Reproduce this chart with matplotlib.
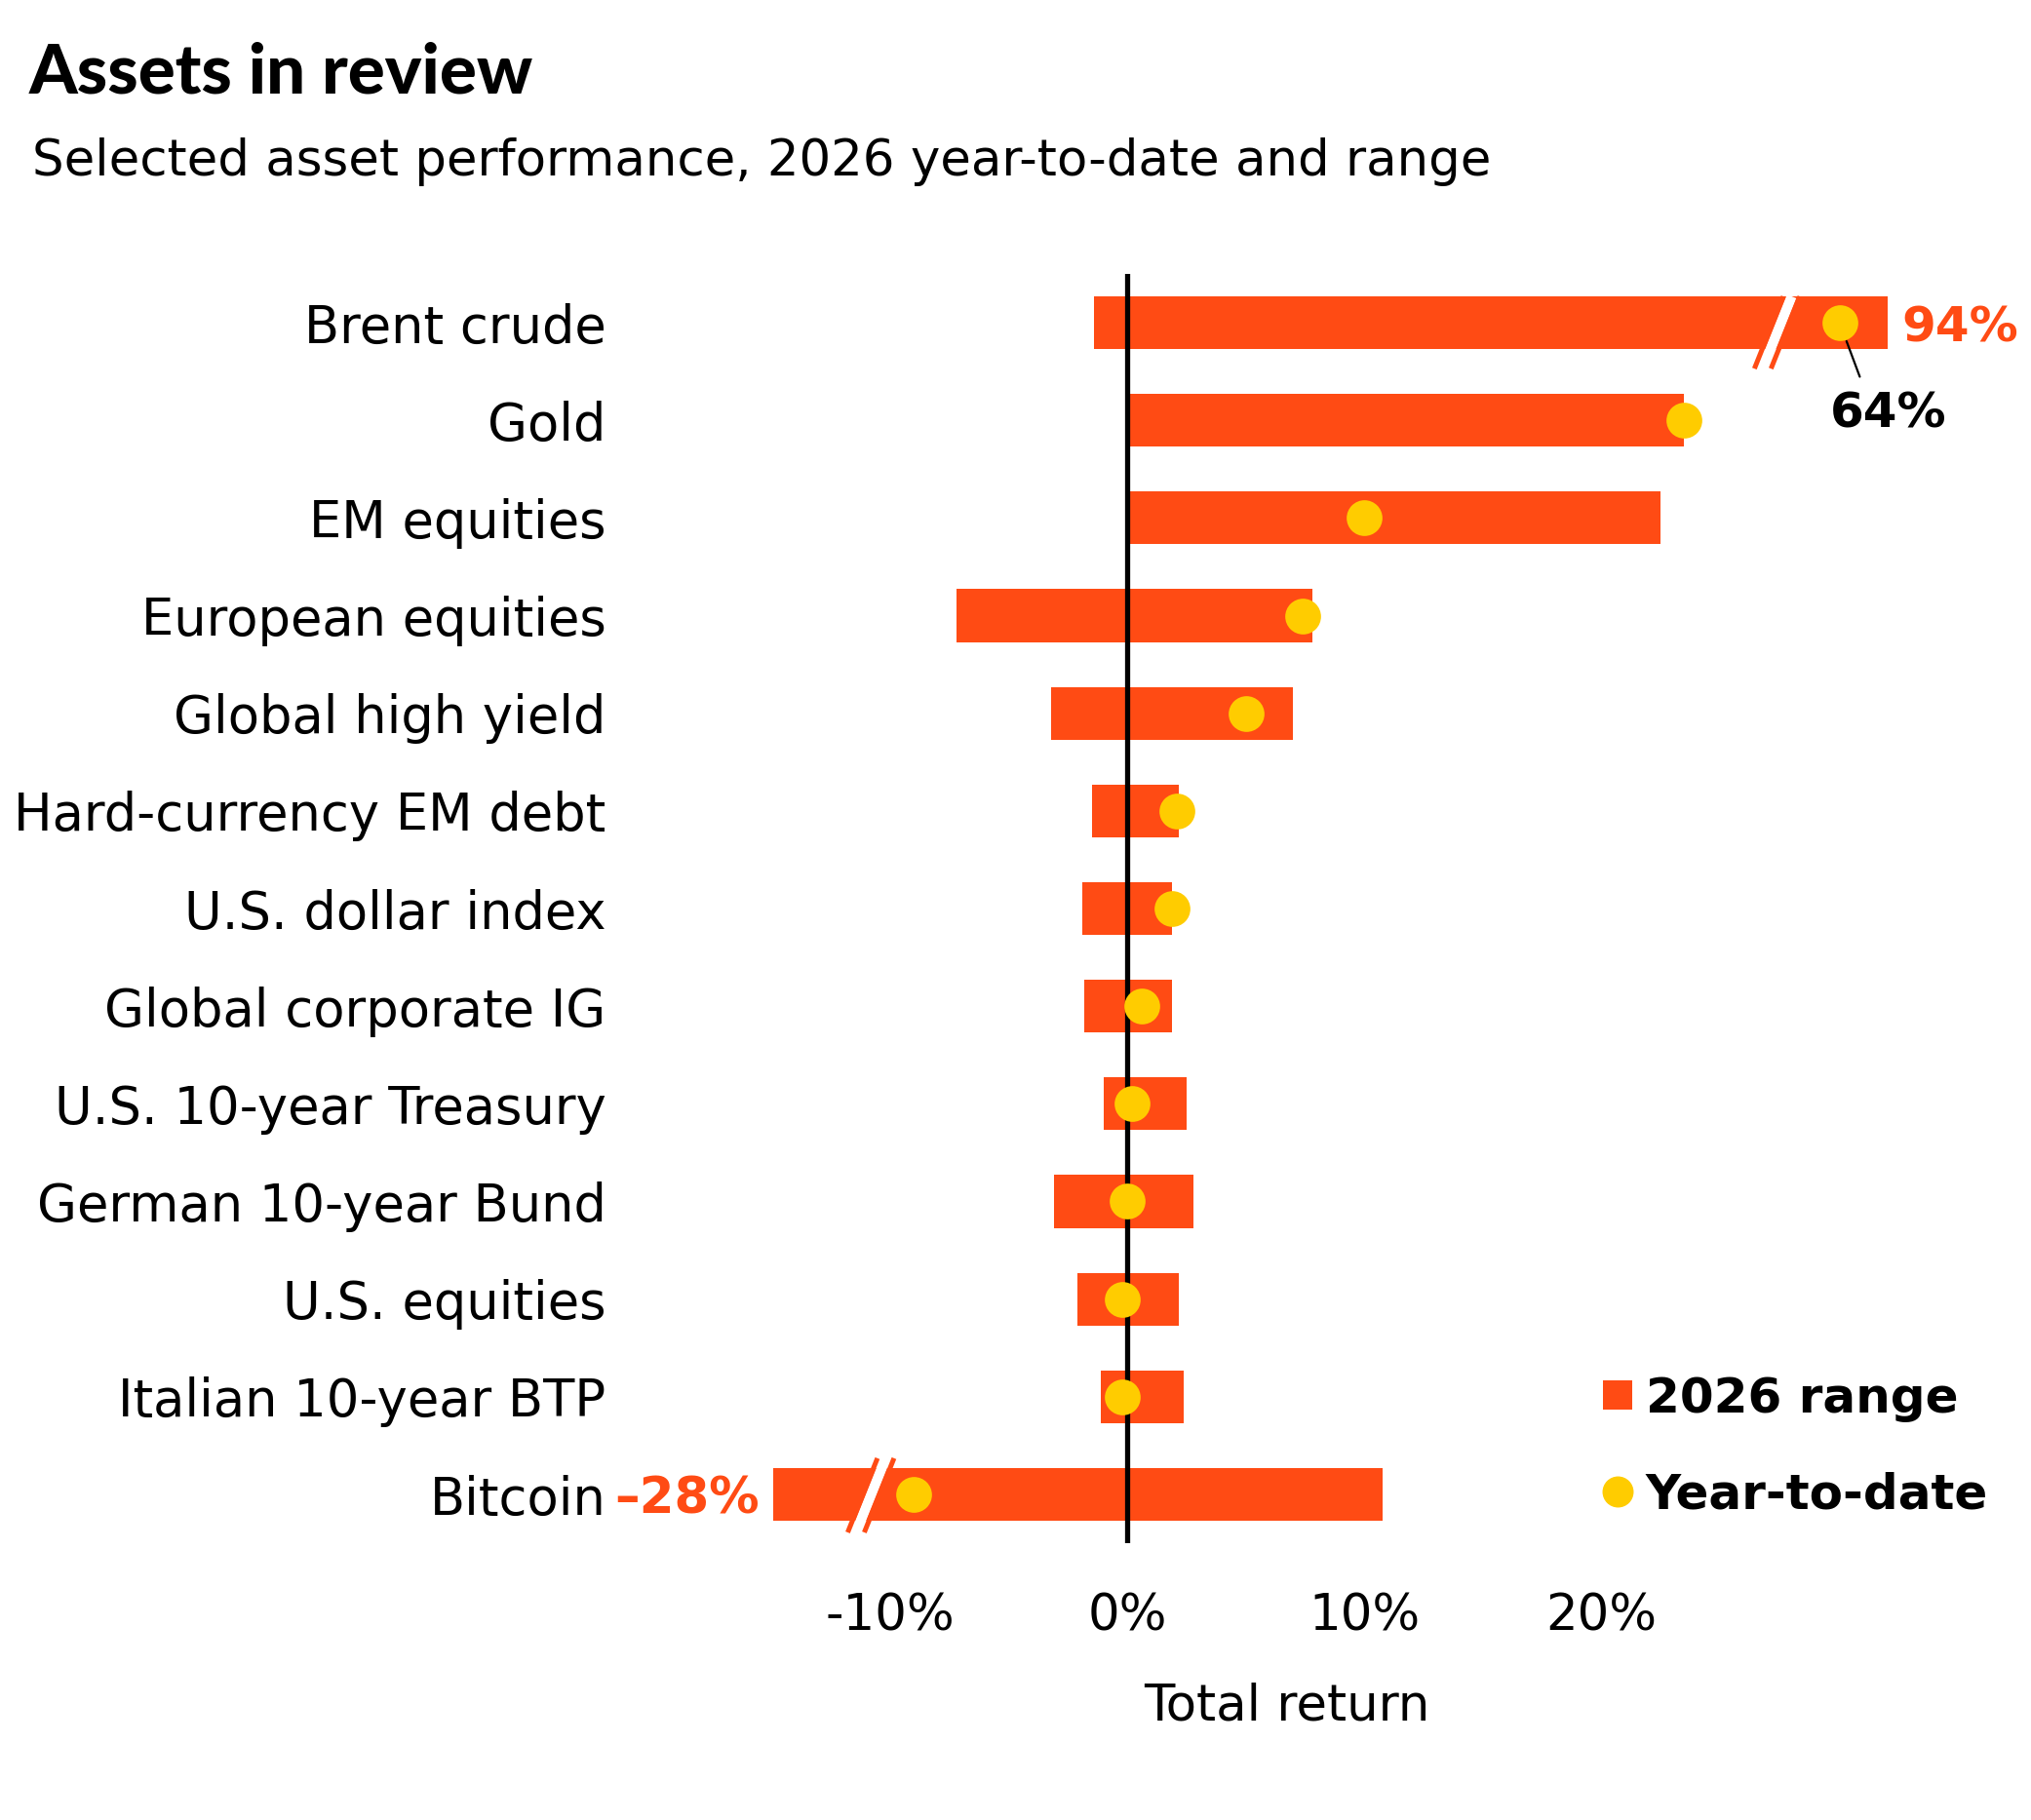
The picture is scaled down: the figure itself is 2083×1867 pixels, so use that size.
import matplotlib.pyplot as plt
import numpy as np
from matplotlib.lines import Line2D

assets = ["Brent crude", "Gold", "EM equities", "European equities",
          "Global high yield", "Hard-currency EM debt", "U.S. dollar index",
          "Global corporate IG", "U.S. 10-year Treasury", "German 10-year Bund",
          "U.S. equities", "Italian 10-year BTP", "Bitcoin"]
range_low = [-1.4, 0.0, 0.0, -7.2, -3.2, -1.5, -1.9, -1.8, -1.0, -3.1, -2.1, -1.1, -28]
range_high = [94, 23.5, 22.5, 7.8, 7.0, 2.2, 1.9, 1.9, 2.5, 2.8, 2.2, 2.4, 10.8]
ytd = [64, 23.5, 10.0, 7.4, 5.0, 2.1, 1.9, 0.6, 0.2, 0.0, -0.2, -0.2, -9.0]

xticks = [-10, 0, 10, 20]
xticklabels = ["-10%", "0%", "10%", "20%"]

ORANGE = "#FF4B14"
YELLOW = "#FFCC00"

# broken axis: values past the breaks are squeezed
brk_lo, brk_hi = -10.8, 27.6
k_lo, k_hi = 0.2413, 0.0679
brk_data = np.array([-200, brk_lo, brk_hi, 200])
brk_view = np.array([brk_lo - (200 + brk_lo) * k_lo, brk_lo, brk_hi,
                     brk_hi + (200 - brk_hi) * k_hi])


def forward(x):
    return np.interp(x, brk_data, brk_view)


def inverse(x):
    return np.interp(x, brk_view, brk_data)


plt.rcParams['font.family'] = ['DejaVu Sans']

fig = plt.figure(figsize=(20.83, 18.67), dpi=100)
ax = fig.add_axes([670 / 2083, 1 - 1583 / 1867, 1336.5 / 2083, 1302 / 1867])
ax.set_xscale('function', functions=(forward, inverse))

rows = np.arange(len(assets))
low = np.array(range_low)
high = np.array(range_high)

ax.barh(rows, high - low, left=low, height=0.54, color=ORANGE, zorder=1)
ax.axvline(0, color='black', lw=3.8, zorder=2)

# break marks
for row, c, top, bot in [(0, brk_hi, 0.27, 0.47), (12, brk_lo, 0.37, 0.39)]:
    ys = np.array([row - top, row + bot])
    s = 1.65
    for off, col, lw in [(0, 'white', 7.4), (-0.35, ORANGE, 3.6), (0.35, ORANGE, 3.6)]:
        xs = forward(c) + off - s * (ys - row)
        ax.plot(inverse(xs), ys, color=col, lw=lw, solid_capstyle='butt', zorder=3)

ax.scatter(ytd, rows, s=698, color=YELLOW, linewidths=0, zorder=5)

ax.set_xlim(inverse(-20), inverse(35))
ax.set_ylim(12.5, -0.5)
ax.set_xticks(xticks, labels=xticklabels)
ax.set_yticks(rows, labels=assets)
ax.minorticks_off()
ax.tick_params(axis='x', length=0, pad=36, labelsize=37)
ax.tick_params(axis='y', length=0, pad=35, labelsize=38)
for sp in ax.spines.values():
    sp.set_visible(False)

# end labels
ax.annotate(f"{range_high[0]:.0f}%", xy=(range_high[0], 0), xytext=(10, 0),
            textcoords='offset points', ha='left', va='center_baseline',
            color=ORANGE, fontsize=36, fontweight='bold', annotation_clip=False)
ax.annotate(f"\u2013{abs(range_low[-1]):.0f}%", xy=(range_low[-1], 12), xytext=(-10, 0),
            textcoords='offset points', ha='right', va='center_baseline',
            color=ORANGE, fontsize=37, fontweight='bold', annotation_clip=False)
ax.annotate(f"{ytd[0]:.0f}%", xy=(ytd[0], 0), xytext=(36, -64),
            textcoords='offset points', ha='center', va='center_baseline',
            color='black', fontsize=36, fontweight='bold', annotation_clip=False,
            arrowprops=dict(arrowstyle='-', color='black', lw=1.6,
                            shrinkA=9, shrinkB=14.5, relpos=(0.3, 1.0)))

fig.text(1320 / 2083, 1 - 1750 / 1867, "Total return", ha='center', va='center',
         fontsize=37)

fig.text(30 / 2083, 1 - 95 / 1867, "Assets in review", ha='left', va='baseline',
         fontsize=51, fontweight='black', family=['Lato', 'DejaVu Sans'])
fig.text(33 / 2083, 1 - 180 / 1867,
         "Selected asset performance, 2026 year-to-date and range",
         ha='left', va='baseline', fontsize=37)

handles = [Line2D([], [], ls='none', marker='s', markersize=21.6, color=ORANGE,
                  markeredgewidth=0, label="2026 range"),
           Line2D([], [], ls='none', marker='o', markersize=23, color=YELLOW,
                  markeredgewidth=0, label="Year-to-date")]
fig.legend(handles=handles, loc='center left', bbox_to_anchor=(1639 / 2083, 1 - 1484 / 1867),
           frameon=False, borderpad=0, borderaxespad=0, handlelength=0.8,
           handletextpad=0.18, labelspacing=1.02,
           prop={'size': 36, 'weight': 'bold'})

plt.savefig("out.png", dpi=100)
